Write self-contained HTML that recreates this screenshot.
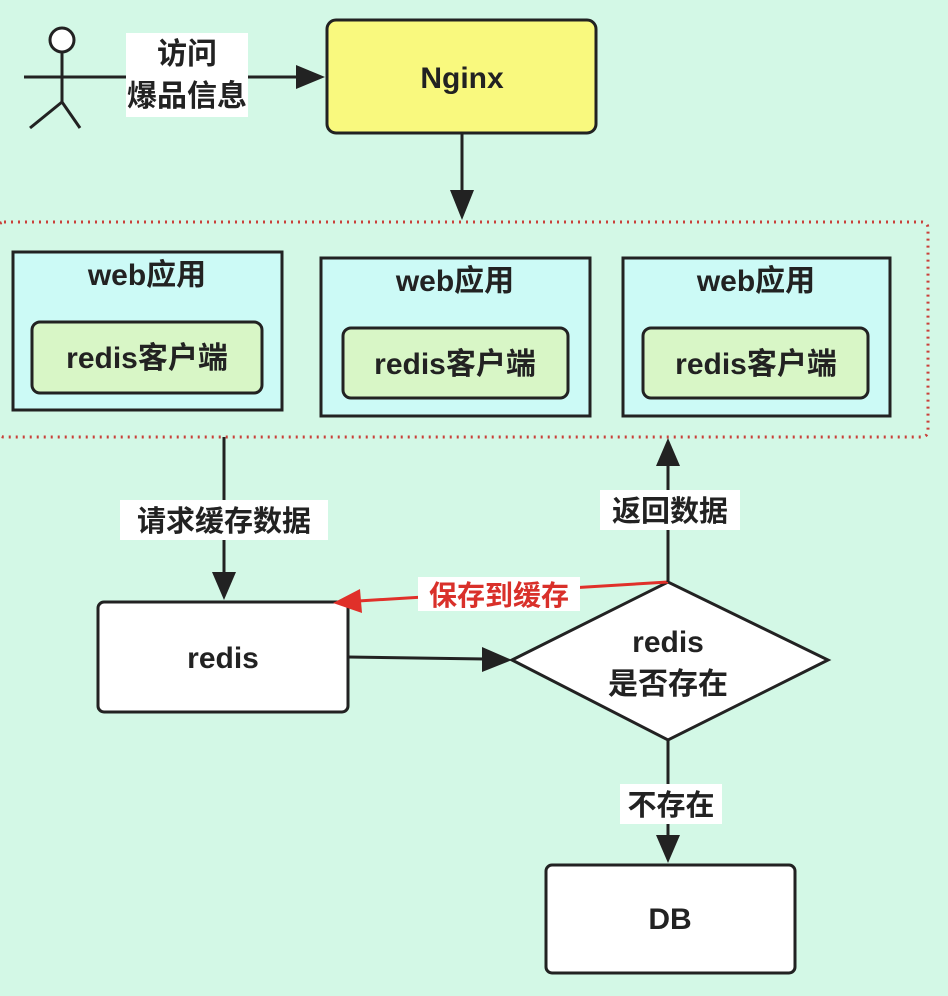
<!DOCTYPE html>
<html><head><meta charset="utf-8"><style>
html,body{margin:0;padding:0;background:#d3f8e6;}
svg{display:block;}
text{font-family:"Liberation Sans","Noto Sans CJK SC",sans-serif;fill:#222;font-weight:bold;}
</style></head><body>
<svg width="948" height="996" viewBox="0 0 948 996" xmlns="http://www.w3.org/2000/svg">
<rect width="948" height="996" fill="#d3f8e6"/>
<g stroke="#222" stroke-width="3" fill="none">
<circle cx="62" cy="40" r="12" fill="#fff"/>
<line x1="62" y1="52" x2="62" y2="102"/>
<line x1="24" y1="77" x2="86" y2="77"/>
<line x1="62" y1="102" x2="30" y2="128"/>
<line x1="62" y1="102" x2="80" y2="128"/>
</g>
<line x1="86" y1="77" x2="300" y2="77" stroke="#222" stroke-width="3"/>
<path d="M296,65 L325,77 L296,89 z" fill="#222"/>
<rect x="126" y="33" width="122" height="84" fill="#fff"/>
<text x="187" y="64" font-size="30" text-anchor="middle">访问</text>
<text x="187" y="106" font-size="30" text-anchor="middle">爆品信息</text>
<rect x="327" y="20" width="269" height="113" rx="9" fill="#f9f97e" stroke="#222" stroke-width="3"/>
<text x="462" y="88" font-size="30" text-anchor="middle">Nginx</text>
<line x1="462" y1="133" x2="462" y2="195" stroke="#222" stroke-width="3"/>
<path d="M450,190 L462,220 L474,190 z" fill="#222"/>
<rect x="-2" y="222" width="930" height="215" fill="none" stroke="#c9403a" stroke-width="3" stroke-dasharray="2,5" rx="6"/>
<g stroke="#222" stroke-width="3">
<rect x="13" y="252" width="269" height="158" fill="#ccfaf6"/>
<rect x="32" y="322" width="230" height="71" rx="8" fill="#d8f6c6"/>
<rect x="321" y="258" width="269" height="158" fill="#ccfaf6"/>
<rect x="343" y="328" width="225" height="70" rx="8" fill="#d8f6c6"/>
<rect x="623" y="258" width="267" height="158" fill="#ccfaf6"/>
<rect x="643" y="328" width="225" height="70" rx="8" fill="#d8f6c6"/>
</g>
<text x="147" y="285" font-size="30" text-anchor="middle">web应用</text>
<text x="147" y="368" font-size="30" text-anchor="middle">redis客户端</text>
<text x="455" y="291" font-size="30" text-anchor="middle">web应用</text>
<text x="455" y="374" font-size="30" text-anchor="middle">redis客户端</text>
<text x="756" y="291" font-size="30" text-anchor="middle">web应用</text>
<text x="756" y="374" font-size="30" text-anchor="middle">redis客户端</text>
<line x1="224" y1="437" x2="224" y2="575" stroke="#222" stroke-width="3"/>
<path d="M212,572 L224,600 L236,572 z" fill="#222"/>
<rect x="120" y="500" width="208" height="40" fill="#fff"/>
<text x="224" y="531" font-size="29" text-anchor="middle">请求缓存数据</text>
<rect x="98" y="602" width="250" height="110" rx="6" fill="#fff" stroke="#222" stroke-width="3"/>
<text x="223" y="668" font-size="30" text-anchor="middle">redis</text>
<line x1="348" y1="657" x2="485" y2="659" stroke="#222" stroke-width="3"/>
<path d="M482,647 L512,660 L482,672 z" fill="#222"/>
<path d="M512,660 L668,582 L828,660 L668,740 z" fill="#fff" stroke="#222" stroke-width="3"/>
<text x="668" y="652" font-size="30" text-anchor="middle">redis</text>
<text x="668" y="694" font-size="30" text-anchor="middle">是否存在</text>
<line x1="668" y1="582" x2="358" y2="601" stroke="#e0302a" stroke-width="3"/>
<path d="M360,589 L333,603 L362,613 z" fill="#e0302a"/>
<rect x="418" y="577" width="162" height="34" fill="#fff"/>
<text x="499" y="605" font-size="28" text-anchor="middle" style="fill:#d9302a">保存到缓存</text>
<line x1="668" y1="582" x2="668" y2="465" stroke="#222" stroke-width="3"/>
<path d="M656,466 L668,438 L680,466 z" fill="#222"/>
<rect x="600" y="490" width="140" height="40" fill="#fff"/>
<text x="670" y="521" font-size="29" text-anchor="middle">返回数据</text>
<line x1="668" y1="740" x2="668" y2="838" stroke="#222" stroke-width="3"/>
<path d="M656,835 L668,863 L680,835 z" fill="#222"/>
<rect x="620" y="784" width="102" height="40" fill="#fff"/>
<text x="671" y="815" font-size="29" text-anchor="middle">不存在</text>
<rect x="546" y="865" width="249" height="108" rx="6" fill="#fff" stroke="#222" stroke-width="3"/>
<text x="670" y="929" font-size="30" text-anchor="middle">DB</text>
</svg>
</body></html>
